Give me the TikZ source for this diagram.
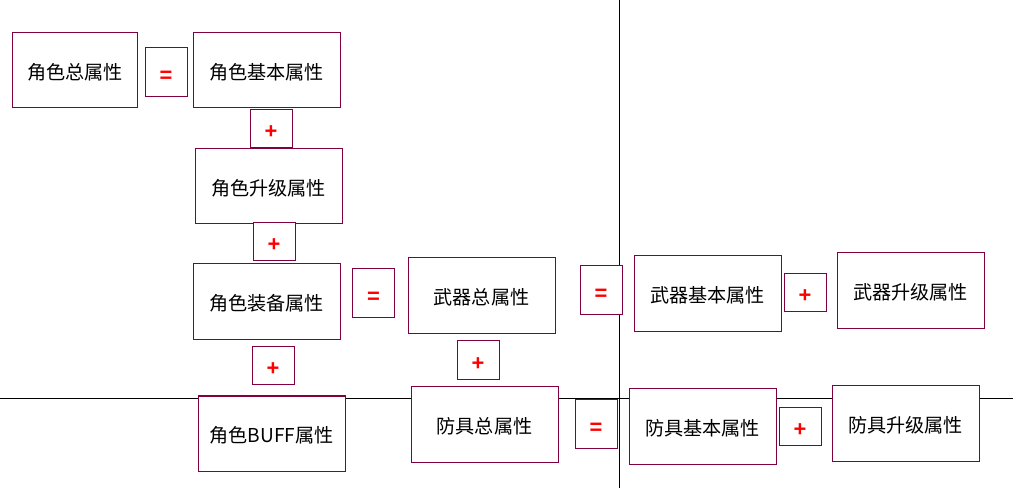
\documentclass[tikz,border=0pt]{standalone}
\usepackage{fontspec}
\setmainfont{Liberation Sans}
\newfontfamily\cjk{Noto Sans CJK SC}
\definecolor{boxred}{RGB}{128,0,64}
\begin{document}
\begin{tikzpicture}[x=1bp,y=-1bp,
    attr/.style={draw=boxred,fill=white,line width=1bp,minimum width=147bp,minimum height=75bp,inner sep=0pt,text height=18.6bp,text depth=0pt,font=\cjk\fontsize{19.2}{21}\selectfont},
    opbox/.style={draw=boxred,fill=white,line width=1bp,minimum width=42bp,minimum height=38bp,inner sep=0pt,text height=20bp,text depth=0pt,text=red,font=\bfseries\fontsize{22}{24}\selectfont}]
    \useasboundingbox (0,0) rectangle (1013,488);
    \draw (0,398) -- (1013,398);
    \draw (619,0) -- (619,488);
    \node[attr,minimum width=124bp] (total) at (75,70.5) {角色总属性\hspace{11bp}};
    \node[opbox,minimum height=49bp] (eq1) at (166,72.5) {=};
    \node[attr] (base) at (266.5,70.5) {角色基本属性};
    \node[opbox] (plus1) at (271,129) {+};
    \node[attr] (upgrade) at (268.5,186.5) {角色升级属性};
    \node[opbox] (plus2) at (274,242) {+};
    \node[attr] (equip) at (266.5,301.5) {角色装备属性};
    \node[opbox] (plus3) at (273,365.5) {+};
    \node[attr] (buff) at (271.5,433.5) {角色BUFF属性};
    \node[opbox,minimum height=49bp] (eq2) at (373.5,293.5) {=};
    \node[attr] (weapon) at (481.5,295.5) {武器总属性};
    \node[opbox] (plus4) at (478,360) {+};
    \node[attr] (armor) at (484.5,424.5) {防具总属性};
    \node[opbox,minimum height=49bp] (eq3) at (601,290.5) {=};
    \node[attr] (wbase) at (707.5,293.5) {武器基本属性};
    \node[opbox] (plus5) at (805,293) {+};
    \node[attr] (wupgrade) at (910.5,290.5) {武器升级属性};
    \node[opbox,minimum height=49bp] (eq4) at (596,424) {=};
    \node[attr] (abase) at (702.5,426.5) {防具基本属性};
    \node[opbox] (plus6) at (800,426.5) {+};
    \node[attr] (aupgrade) at (905.5,423.5) {防具升级属性};
\end{tikzpicture}
\end{document}
